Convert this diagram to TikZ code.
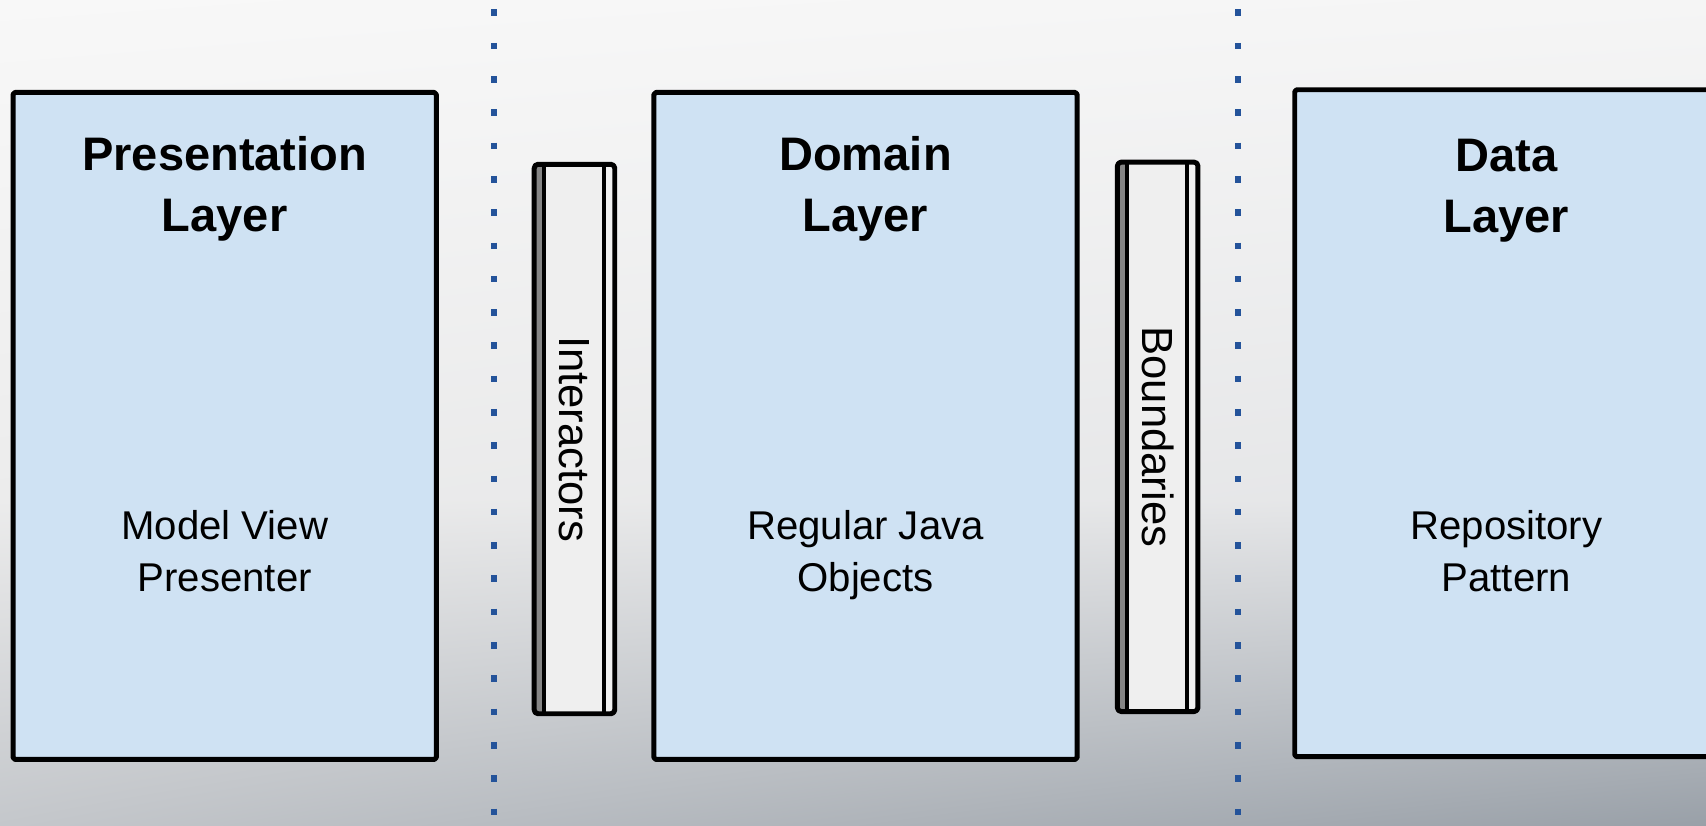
\documentclass[tikz,border=0pt]{standalone}
\usepackage{fontspec}
\setmainfont{Liberation Sans}
\usetikzlibrary{positioning,shadings}
\definecolor{layerblue}{HTML}{CFE2F3}
\definecolor{pillargray}{HTML}{EFEFEF}
\definecolor{stripgray}{HTML}{858585}
\definecolor{stripwhite}{HTML}{F2F2F2}
\definecolor{dotblue}{HTML}{24539A}
\definecolor{bgtop}{HTML}{F8F8F8}
\definecolor{bgtopr}{HTML}{F5F5F5}
\definecolor{bgmid}{HTML}{ECECEC}
\definecolor{bgmidr}{HTML}{E4E5E7}
\definecolor{bgbotl}{HTML}{C4C7CB}
\definecolor{bgbotr}{HTML}{99A0A8}
\begin{document}
\begin{tikzpicture}[line join=round, line cap=round]
	\tikzset{layer/.style={draw=black, line width=1.3pt, fill=layerblue, minimum width=3.89cm, minimum height=6.13cm, inner sep=0pt, outer sep=0pt, rounded corners=0.5pt},
		title/.style={align=center, inner sep=0pt, font=\fontsize{12.3}{15.9}\selectfont\bfseries},
		sub/.style={align=center, inner sep=0pt, font=\fontsize{10.5}{13.6}\selectfont},
		pillar/.style={fill=pillargray, minimum width=0.74cm, minimum height=5.05cm, inner sep=0pt, outer sep=0pt},
		pillartext/.style={rotate=-90, inner sep=0pt, font=\fontsize{11.4}{13}\selectfont},
		dotline/.style={dotblue, line width=0.061cm, line cap=butt, dash pattern=on 0.061cm off 0.245cm}}
	\def\W{15.68}\def\H{7.59}
	\useasboundingbox (0,0) rectangle (\W,\H);
	\clip (0,0) rectangle (\W,\H);
	% background
	\shade[upper left=bgtop, upper right=bgtopr, lower left=bgmid, lower right=bgmidr] (0,3.0) rectangle (\W,\H);
	\shade[upper left=bgmid, upper right=bgmidr, lower left=bgbotl, lower right=bgbotr] (0,0) rectangle (\W,3.0);
	% separators
	\coordinate (sepA top) at (4.54,\H-0.087);
	\coordinate (sepA bot) at (4.54,0);
	\coordinate (sepB top) at (11.38,\H-0.087);
	\coordinate (sepB bot) at (11.38,0);
	\draw[dotline] (sepA top)--(sepA bot);
	\draw[dotline] (sepB top)--(sepB bot);
	% layers
	\node[layer] (pres) at (2.065,3.675) {};
	\node[title, below=0.40cm of pres.north] (presT) {Presentation\\Layer};
	\node[sub, below=0.77cm of pres.center] (presS) {Model View\\Presenter};
	\node[layer] (dom) at (7.955,3.675) {};
	\node[title, below=0.40cm of dom.north] (domT) {Domain\\Layer};
	\node[sub, below=0.77cm of dom.center] (domS) {Regular Java\\Objects};
	\node[layer] (data) at (13.845,3.70) {};
	\node[title, below=0.45cm of data.north] (dataT) {Data\\Layer};
	\node[sub, below=0.79cm of data.center] (dataS) {Repository\\Pattern};
	% interfaces between layers
	\foreach \name/\x/\y/\txt in {inter/5.28/3.555/Interactors, bound/10.64/3.575/Boundaries}{
		\node[pillar] (\name) at (\x,\y) {};
		\fill[stripgray] (\name.north west) rectangle ([xshift=0.09cm]\name.south west);
		\fill[stripwhite] ([xshift=-0.10cm]\name.north east) rectangle (\name.south east);
		\draw[line width=1.1pt] ([xshift=0.09cm]\name.north west)--([xshift=0.09cm]\name.south west)
			([xshift=-0.10cm]\name.north east)--([xshift=-0.10cm]\name.south east);
		\draw[line width=1.3pt, rounded corners=1pt] (\name.north west) rectangle (\name.south east);
		\node[pillartext] (\name T) at (\name.center) {\txt};
	}
\end{tikzpicture}
\end{document}
